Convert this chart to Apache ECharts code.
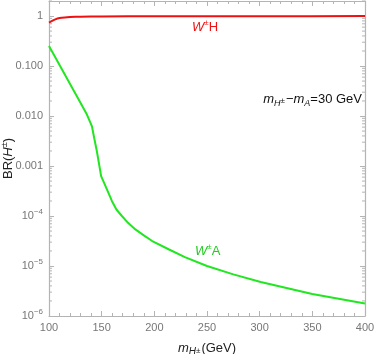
<!DOCTYPE html>
<html><head><meta charset="utf-8">
<script src="https://cdn.jsdelivr.net/npm/echarts@6/dist/echarts.min.js"></script>
<style>html,body{margin:0;padding:0;background:#fff}#c{width:374px;height:354px}</style>
</head><body><div id="c"></div>
<script>
const massWA = [100,110,120,130,136,140.7,143,145.4,149.5,155,159.7,164,169.2,175,182,190,198,214,229,250,275,301,350,400];
const brWA   = [0.251,0.105,0.0437,0.0182,0.0107,0.0063,0.00355,0.002,0.00063,0.00034,0.0002,0.000135,0.0001,0.000073,0.000054,0.000041,0.0000316,0.0000214,0.0000151,0.00001,0.0000068,0.0000048,0.00000275,0.00000178];
const massWH = [100,103,106,110,115,120,130,150,200,300,400];
const brWH   = [0.735,0.8,0.86,0.91,0.94,0.955,0.97,0.982,0.99,0.995,0.997];
const xTicks = [100,150,200,250,300,350,400];
const yMajor = [1,0.1,0.01,0.001,0.0001,0.00001,0.000001];
const minorMantissas = [2,3,4,5,6,7,8,9];
const minorExponents = [-6,-5,-4,-3,-2,-1,0];

const minorVals = [];
minorExponents.forEach(e => minorMantissas.forEach(m => { const v = m*Math.pow(10,e); if (v <= 2) minorVals.push([100, v]); }));

const axisCol = '#b4b4b4', labCol = '#777';
const chart = echarts.init(document.getElementById('c'));
function yFmt(v){
  const e = Math.round(Math.log10(v));
  if (Math.abs(v/Math.pow(10,e)-1) > 1e-6) return '';
  if (e === 0) return '1';
  if (e === -1) return '0.100';
  if (e === -2) return '0.010';
  if (e === -3) return '0.001';
  return '{b|10}{s|' + '\u2212' + (-e) + '}';
}
chart.setOption({
  animation:false,
  grid:{left:49,right:9,top:1,bottom:38,outerBoundsMode:'none',containLabel:false},
  xAxis:[{type:'value',min:100,max:400,interval:50,
    axisLine:{lineStyle:{color:axisCol,width:1.2}},
    axisTick:{inside:true,length:5,lineStyle:{color:axisCol}},
    minorTick:{show:true,splitNumber:5,length:3,lineStyle:{color:axisCol}},
    splitLine:{show:false},
    axisLabel:{color:labCol,fontSize:11,fontFamily:'Liberation Sans',margin:6},
    name:'{i|m}{sub|H}{subs|\u00b1}{n|(GeV)}',nameLocation:'middle',nameGap:24,nameMoveOverlap:false,
    nameTextStyle:{rich:{
      i:{fontStyle:'italic',fontSize:13,color:'#222',fontFamily:'Liberation Sans'},
      sub:{fontStyle:'italic',fontSize:10,color:'#222',verticalAlign:'bottom',padding:[7,0,0,0],fontFamily:'Liberation Sans'},
      subs:{fontSize:8,color:'#222',verticalAlign:'bottom',padding:[0,1,2,0],fontFamily:'Liberation Sans'},
      n:{fontSize:13,color:'#222',fontFamily:'Liberation Sans'}}}},
   {type:'value',position:'top',min:100,max:400,interval:50,
    axisLine:{lineStyle:{color:axisCol,width:1.2}},
    axisTick:{inside:true,length:5,lineStyle:{color:axisCol}},
    minorTick:{show:true,splitNumber:5,length:3,lineStyle:{color:axisCol}},
    splitLine:{show:false},axisLabel:{show:false}}],
  yAxis:[{type:'log',logBase:10,min:0.000001,max:2,
    axisLine:{show:true,lineStyle:{color:axisCol,width:1.2}},
    axisTick:{inside:true,length:5,lineStyle:{color:axisCol}},
    splitLine:{show:false},
    axisLabel:{color:labCol,fontSize:11,fontFamily:'Liberation Sans',margin:6,formatter:yFmt,showMaxLabel:false,
      rich:{b:{fontSize:11,color:labCol,fontFamily:'Liberation Sans'},s:{fontSize:8,color:labCol,verticalAlign:'top',padding:[0,0,8,0],fontFamily:'Liberation Sans'}}},
    name:'BR({i|H}{s|\u00b1})',nameLocation:'middle',nameGap:32,nameMoveOverlap:false,
    nameTextStyle:{fontSize:13,color:'#222',fontFamily:'Liberation Sans',rich:{
      i:{fontStyle:'italic',fontSize:13,color:'#222',fontFamily:'Liberation Sans'},
      s:{fontSize:9,color:'#222',verticalAlign:'top',padding:[0,0,8,0],fontFamily:'Liberation Sans'}}}},
   {type:'log',logBase:10,min:0.000001,max:2,position:'right',
    axisLine:{show:true,lineStyle:{color:axisCol,width:1.2}},
    axisTick:{inside:true,length:5,lineStyle:{color:axisCol}},
    splitLine:{show:false},axisLabel:{show:false}}],
  series:[
    {type:'line',data:massWH.map((m,i)=>[m,brWH[i]]),showSymbol:false,smooth:0.2,
     lineStyle:{color:'#ee1111',width:2},itemStyle:{color:'#ee1111'}},
    {type:'line',data:massWA.map((m,i)=>[m,brWA[i]]),showSymbol:false,smooth:false,
     lineStyle:{color:'#22e622',width:2},itemStyle:{color:'#22e622'}},
    {type:'custom',data:minorVals,silent:true,
     renderItem:function(params,api){
       const y = api.coord([100, api.value(1)])[1];
       const xl = api.coord([100, 1])[0], xr = api.coord([400,1])[0];
       return {type:'group',children:[
         {type:'line',shape:{x1:xl,y1:y,x2:xl+3,y2:y},style:{stroke:axisCol,lineWidth:1}},
         {type:'line',shape:{x1:xr-3,y1:y,x2:xr,y2:y},style:{stroke:axisCol,lineWidth:1}}]};
     }}
  ],
  graphic:[
    {type:'text',left:192,top:19,style:{text:'{i|W}{s|\u00b1}{n|H}',rich:{
      i:{fontStyle:'italic',fontSize:13,fill:'#ee1111',fontFamily:'Liberation Sans'},
      s:{fontSize:8,fill:'#ee1111',verticalAlign:'top',padding:[0,0,8,0],fontFamily:'Liberation Sans'},
      n:{fontSize:13,fill:'#ee1111',fontFamily:'Liberation Sans'}}}},
    {type:'text',left:195,top:243,style:{text:'{i|W}{s|\u00b1}{n|A}',rich:{
      i:{fontStyle:'italic',fontSize:13,fill:'#22cc22',fontFamily:'Liberation Sans'},
      s:{fontSize:8,fill:'#22cc22',verticalAlign:'top',padding:[0,0,8,0],fontFamily:'Liberation Sans'},
      n:{fontSize:13,fill:'#22cc22',fontFamily:'Liberation Sans'}}}},
    {type:'text',right:12,top:93,style:{text:'{i|m}{sub|H}{ss|\u00b1}{n|\u2212}{i|m}{sub|A}{n|=30 GeV}',rich:{
      i:{fontStyle:'italic',fontSize:13,fill:'#111',fontFamily:'Liberation Sans'},
      sub:{fontStyle:'italic',fontSize:9,fill:'#111',verticalAlign:'bottom',padding:[7,0,0,0],fontFamily:'Liberation Sans'},
      ss:{fontSize:8,fill:'#111',verticalAlign:'bottom',padding:[0,1,3,0],fontFamily:'Liberation Sans'},
      n:{fontSize:13,fill:'#111',fontFamily:'Liberation Sans'}}}}
  ]
});
</script></body></html>
